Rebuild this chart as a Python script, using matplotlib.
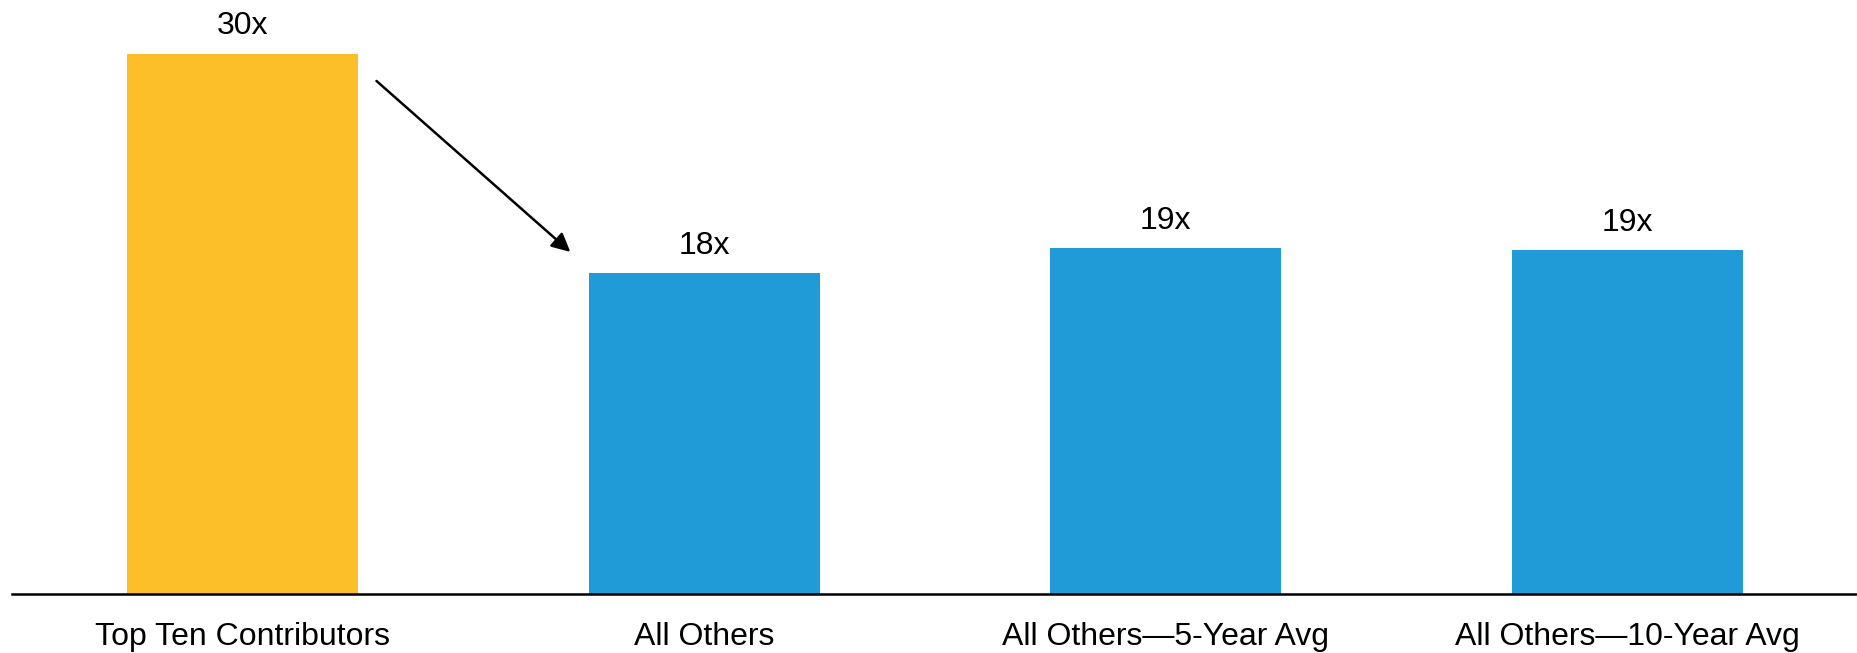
import matplotlib.pyplot as plt

plt.rcParams['font.family'] = ['Liberation Sans', 'DejaVu Sans']

categories = ['Top Ten Contributors', 'All Others', 'All Others\u20145-Year Avg', 'All Others\u201410-Year Avg']
values = [30.0, 17.8, 19.2, 19.1]
labels = ['30x', '18x', '19x', '19x']
colors = ['#FDBF29', '#209BD7', '#209BD7', '#209BD7']

fig = plt.figure(figsize=(18.58, 6.53), dpi=100)
ax = fig.add_axes([0.0064, 0.0907, 0.9936, 0.9093])

x = range(len(categories))
bars = ax.bar(x, values, width=0.5, color=colors)
ax.bar_label(bars, labels=labels, padding=9, fontsize=23)

ax.set_xlim(-0.5, 3.5)
ax.set_ylim(0, 33.0)
ax.set_xticks(list(x))
ax.set_xticklabels(categories, fontsize=23)
ax.tick_params(axis='x', length=0, pad=20)
ax.set_yticks([])

for s in ['top', 'right', 'left']:
    ax.spines[s].set_visible(False)
ax.spines['bottom'].set_linewidth(1.8)
ax.spines['bottom'].set_color('black')

# arrow from the top contributors bar down to all others
ax.annotate('', xy=(1 - 0.29, values[1] + 1.2), xytext=(0 + 0.29, values[0] - 1.5),
            arrowprops=dict(arrowstyle='-|>', color='black', lw=1.8,
                            mutation_scale=28, shrinkA=0, shrinkB=0))

fig.savefig('out.png', dpi=100)
